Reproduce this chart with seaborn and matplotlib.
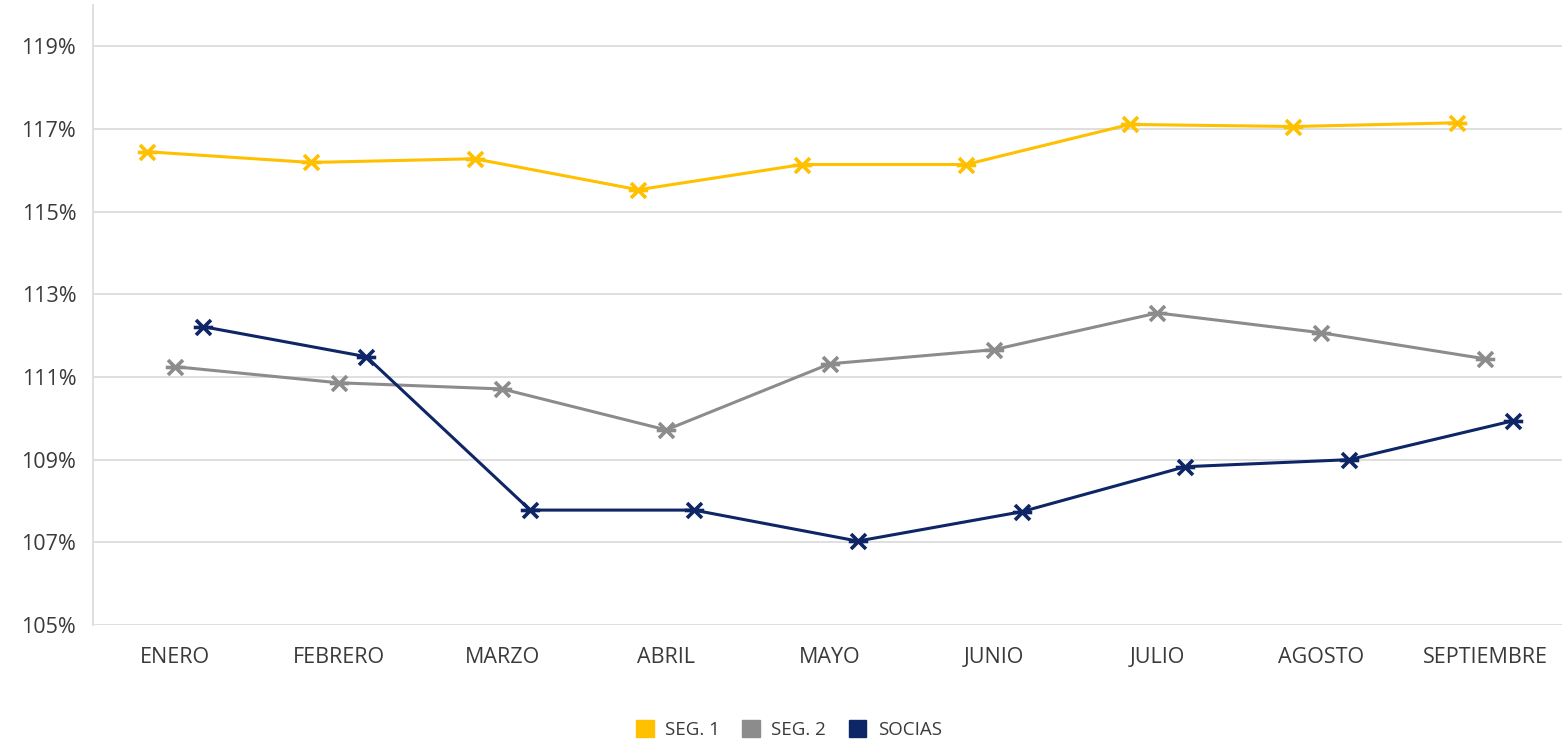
import numpy as np
import pandas as pd
import matplotlib
matplotlib.use("Agg")
import matplotlib.pyplot as plt
import seaborn as sns
from matplotlib.path import Path
from matplotlib.patches import Patch
from matplotlib.ticker import FuncFormatter

# Data
meses = ["ENERO", "FEBRERO", "MARZO", "ABRIL", "MAYO", "JUNIO", "JULIO", "AGOSTO", "SEPTIEMBRE"]
seg1 = [116.45, 116.19, 116.28, 115.53, 116.14, 116.14, 117.11, 117.06, 117.15]
seg2 = [111.25, 110.86, 110.71, 109.72, 111.32, 111.66, 112.55, 112.07, 111.44]
socias = [112.22, 111.49, 107.78, 107.78, 107.03, 107.74, 108.83, 109.00, 109.94]

series_names = ["SEG. 1", "SEG. 2", "SOCIAS"]
colors = ["#FFC000", "#8C8C8C", "#0E2566"]
offsets = [-0.17, 0.0, 0.17]

sns.set_style("white")
plt.rcParams["font.family"] = ["Open Sans", "DejaVu Sans"]
text_color = "#3A3A3A"

# Excel-style star marker: an "x" with a horizontal bar
star = Path(
    [(-1, -1), (1, 1), (-1, 1), (1, -1), (-1.3, 0), (1.3, 0)],
    [Path.MOVETO, Path.LINETO, Path.MOVETO, Path.LINETO, Path.MOVETO, Path.LINETO],
)

fig = plt.figure(figsize=(15.62, 7.43), dpi=100)
ax = fig.add_axes([0.0595, 0.1588, 0.9405, 0.8345])

idx = np.arange(len(meses))
for name, vals, c, off in zip(series_names, [seg1, seg2, socias], colors, offsets):
    df = pd.DataFrame({"x": idx + off, "y": vals})
    sns.lineplot(data=df, x="x", y="y", color=c, linewidth=2.2, marker=star,
                 markersize=14, markeredgewidth=2.6, markeredgecolor=c,
                 markerfacecolor="none", ax=ax, legend=False)

ax.set_xlim(-0.5, 8.47)
ax.set_ylim(105, 120)
ax.set_yticks(np.arange(105, 120, 2))
ax.yaxis.set_major_formatter(FuncFormatter(lambda v, p: f"{v:.0f}%"))
ax.set_xticks(idx)
ax.set_xticklabels(meses)
ax.set_xlabel("")
ax.set_ylabel("")

ax.grid(axis="y", color="#D9D9D9", linewidth=1.2)
ax.grid(axis="x", visible=False)
for s in ["top", "right", "bottom"]:
    ax.spines[s].set_visible(False)
ax.spines["left"].set_color("#D9D9D9")
ax.spines["left"].set_linewidth(1.2)

ax.tick_params(axis="both", length=0, labelsize=15.5, colors=text_color)
ax.tick_params(axis="x", pad=16)
ax.tick_params(axis="y", pad=12)

handles = [Patch(facecolor=c, edgecolor=c, label=n) for n, c in zip(series_names, colors)]
leg = fig.legend(handles=handles, loc="center", bbox_to_anchor=(0.505, 0.018), ncol=3,
                 frameon=False, fontsize=13.5, handlelength=0.95, handleheight=0.95,
                 handletextpad=0.6, columnspacing=1.2)
for t in leg.get_texts():
    t.set_color(text_color)

fig.savefig("out.png", dpi=100)
